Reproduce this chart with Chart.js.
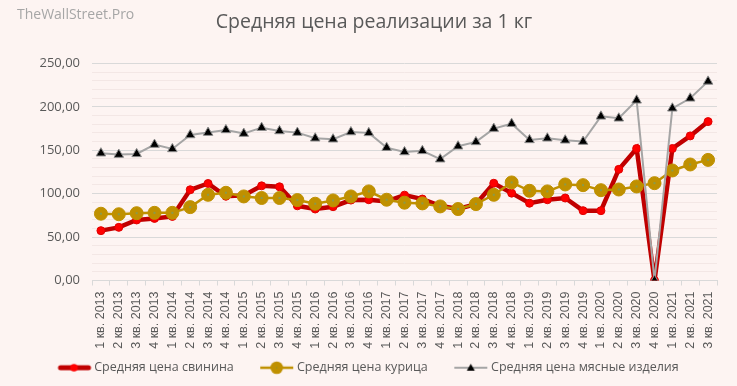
<!DOCTYPE html>
<html>
<head>
<meta charset="utf-8">
<script src="https://cdn.jsdelivr.net/npm/chart.js@4.4.0/dist/chart.umd.min.js"></script>
<style>
  html, body { margin: 0; padding: 0; background: #fdf4f2; }
  #wrap { position: relative; width: 737px; height: 386px; }
  #brand { position: absolute; left: 17px; top: 4px; font: 14px 'Open Sans'; color: #a6a6a6; }
</style>
</head>
<body>
<div id="wrap">
  <canvas id="myChart" width="737" height="386"></canvas>
  <div id="brand">TheWallStreet.Pro</div>
</div>
<script>
const quarters = [
  '1 кв. 2013', '2 кв. 2013', '3 кв. 2013', '4 кв. 2013',
  '1 кв. 2014', '2 кв. 2014', '3 кв. 2014', '4 кв. 2014',
  '1 кв. 2015', '2 кв. 2015', '3 кв. 2015', '4 кв. 2015',
  '1 кв. 2016', '2 кв. 2016', '3 кв. 2016', '4 кв. 2016',
  '1 кв. 2017', '2 кв. 2017', '3 кв. 2017', '4 кв. 2017',
  '1 кв. 2018', '2 кв. 2018', '3 кв. 2018', '4 кв. 2018',
  '1 кв. 2019', '2 кв. 2019', '3 кв. 2019', '4 кв. 2019',
  '1 кв. 2020', '2 кв. 2020', '3 кв. 2020', '4 кв. 2020',
  '1 кв. 2021', '2 кв. 2021', '3 кв. 2021'
];

const porkPrice = [57.4, 61.2, 69.7, 71.5, 73.8, 104.5, 111.7, 97, 98, 109, 107.9, 86,
  82.3, 85, 92.6, 93, 91, 98.3, 93.8, 86, 82.3, 88, 112, 100.6,
  89, 93, 95, 80.4, 80.4, 128, 152, 0, 152, 166.5, 183];

const chickenPrice = [76.9, 76.3, 77.5, 77.9, 77.9, 84.5, 98.7, 101, 96.8, 95, 95, 92.6,
  88.4, 92.2, 96.8, 102.6, 93, 89.6, 88.8, 85.3, 82.3, 88, 98.7, 112.9,
  103.3, 102.6, 110.6, 109.8, 104, 104.8, 108.3, 112.1, 126.7, 133.6, 138.9];

const meatPrice = [146.6, 145, 145.8, 156.5, 151.5, 167.6, 170.3, 173.4, 169.2, 176, 172.2, 170.3,
  163.8, 162.7, 171, 170, 153, 148, 149.3, 139.7, 154.6, 159.6, 174.9, 180.6,
  161.9, 163.8, 161.5, 160, 189, 186.8, 207.5, 0, 198.3, 209.8, 229.3];

const yTicks = [0, 50, 100, 150, 200, 250];

// legend icons: line + marker, drawn off-centre inside a wider transparent canvas
function legendIcon(lineColor, lineWidth, marker) {
  const c = document.createElement('canvas');
  c.width = 100; c.height = 16;
  const g = c.getContext('2d');
  g.strokeStyle = lineColor;
  g.lineWidth = lineWidth;
  g.lineCap = lineWidth > 3 ? 'round' : 'butt';
  if (lineWidth > 3) {
    g.beginPath(); g.moveTo(47, 8); g.lineTo(75, 8); g.stroke();
  } else {
    g.beginPath(); g.moveTo(44, 8); g.lineTo(77, 8); g.stroke();
  }
  marker(g, 60.5, 8);
  return c;
}

const icons = [
  legendIcon('#c00000', 5, (g, x, y) => {
    g.fillStyle = '#ff0000';
    g.beginPath(); g.arc(x, y, 3.8, 0, Math.PI * 2); g.fill();
  }),
  legendIcon('#bf9000', 2.5, (g, x, y) => {
    g.fillStyle = '#bf9000';
    g.beginPath(); g.arc(x, y, 6.3, 0, Math.PI * 2); g.fill();
    g.fillStyle = '#7f8f3f';
    g.fillRect(x - 0.5, y - 0.5, 1, 1);
  }),
  legendIcon('#a5a5a5', 2, (g, x, y) => {
    g.fillStyle = '#000';
    g.beginPath(); g.moveTo(x, y - 4); g.lineTo(x + 4, y + 3); g.lineTo(x - 4, y + 3); g.closePath(); g.fill();
  })
];

// small centre dot on the chicken markers (Excel-style marker)
const markerDots = {
  id: 'markerDots',
  afterDatasetDraw(chart, args) {
    if (args.index !== 1) return;
    const c = chart.ctx;
    c.save();
    c.fillStyle = '#8a9a4a';
    args.meta.data.forEach((pt) => c.fillRect(pt.x - 1, pt.y - 1, 2, 2));
    c.restore();
  }
};

const ctx = document.getElementById('myChart').getContext('2d');

new Chart(ctx, {
  type: 'line',
  data: {
    labels: quarters,
    datasets: [
      {
        label: 'Средняя цена свинина',
        data: porkPrice,
        borderColor: '#c00000',
        borderWidth: 4.5,
        backgroundColor: '#ff0000',
        pointBackgroundColor: '#ff0000',
        pointBorderColor: '#e00000',
        pointBorderWidth: 1,
        pointRadius: 4,
        tension: 0,
        order: 3
      },
      {
        label: 'Средняя цена курица',
        data: chickenPrice,
        borderColor: '#bf9000',
        borderWidth: 2.5,
        backgroundColor: '#bf9000',
        pointBackgroundColor: '#bf9000',
        pointBorderColor: '#bf9000',
        pointBorderWidth: 1,
        pointRadius: 6.5,
        tension: 0,
        order: 2
      },
      {
        label: 'Средняя цена мясные изделия',
        data: meatPrice,
        borderColor: '#a5a5a5',
        borderWidth: 2,
        backgroundColor: '#000000',
        pointBackgroundColor: '#000000',
        pointBorderColor: '#8c8c8c',
        pointBorderWidth: 1,
        pointStyle: 'triangle',
        pointRadius: 5.5,
        tension: 0,
        order: 1
      }
    ]
  },
  plugins: [markerDots],
  options: {
    responsive: false,
    animation: false,
    layout: { padding: { left: 31, right: 20, top: 2, bottom: 2 } },
    plugins: {
      tooltip: { enabled: false },
      title: {
        display: true,
        text: 'Средняя цена реализации за 1 кг',
        color: '#595959',
        font: { family: 'Open Sans', size: 19.5, weight: 'normal' },
        padding: { top: 9, bottom: 29 }
      },
      legend: {
        position: 'bottom',
        align: 'start',
        labels: {
          usePointStyle: true,
          pointStyleWidth: 49,
          padding: 8,
          color: '#595959',
          font: { family: 'Open Sans', size: 12.5 },
          sort: (a, b) => a.datasetIndex - b.datasetIndex,
          generateLabels: (chart) =>
            Chart.defaults.plugins.legend.labels.generateLabels(chart).map((l) => ({
              ...l, pointStyle: icons[l.datasetIndex]
            }))
        }
      }
    },
    scales: {
      x: {
        offset: true,
        afterFit: (scale) => { scale.height = 73; },
        grid: { offset: true, drawOnChartArea: false, drawTicks: true, tickLength: 5, color: '#d9d9d9' },
        border: { color: '#d9d9d9' },
        ticks: {
          autoSkip: false,
          minRotation: 90,
          maxRotation: 90,
          padding: 6,
          color: '#595959',
          font: { family: 'Liberation Sans', size: 12.5 }
        }
      },
      y: {
        min: 0,
        max: 250,
        afterFit: (scale) => { scale.width = 61; },
        border: { display: false },
        grid: {
          drawTicks: false,
          color: (c) => (yTicks.includes(c.tick.value) ? '#d9d9d9' : '#f3e7e5'),
          lineWidth: 1
        },
        ticks: {
          stepSize: 10,
          autoSkip: false,
          padding: 12,
          color: '#595959',
          font: { family: 'Open Sans', size: 13 },
          callback: (v) => (yTicks.includes(v) ? v.toFixed(2).replace('.', ',') : '')
        }
      }
    }
  }
});
</script>
</body>
</html>
